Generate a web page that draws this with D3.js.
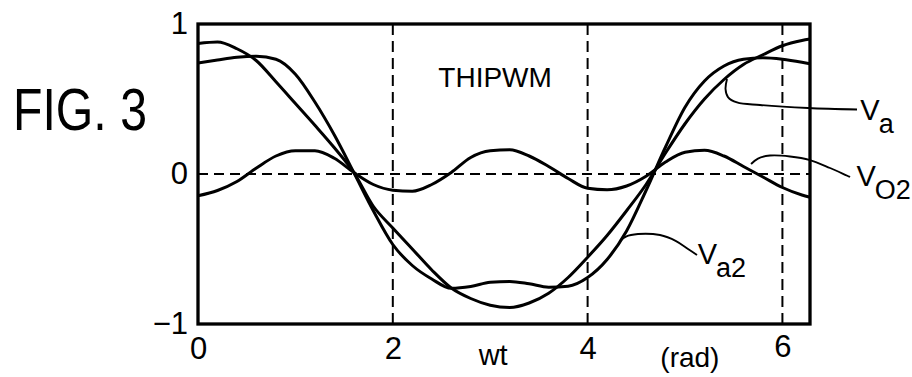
<!DOCTYPE html>
<html>
<head>
<meta charset="utf-8">
<script src="https://cdn.jsdelivr.net/npm/d3@7"></script>
<style>
  html, body { margin: 0; padding: 0; background: #fff; }
  svg { display: block; }
  text { font-family: "Liberation Sans Narrow", "Liberation Sans", Arial, sans-serif; fill: #000; }
</style>
</head>
<body>
<svg id="chart" width="912" height="377"></svg>
<script>
// Sample angles (rad) over one period
const wt = [0, 0.2, 0.4, 0.6, 0.8, 1.0, 1.2, 1.4, 1.6, 1.8, 2.0, 2.2, 2.4, 2.6, 2.8, 3.0,
            3.2, 3.4, 3.6, 3.8, 4.0, 4.2, 4.4, 4.6, 4.8, 5.0, 5.2, 5.4, 5.6, 5.8, 6.0, 6.2, 6.2832];

// Fundamental reference V_a
const va = [0.87, 0.88, 0.835, 0.755, 0.615, 0.47, 0.325, 0.175, 0.01, -0.215, -0.36, -0.50,
            -0.64, -0.76, -0.83, -0.875, -0.89, -0.86, -0.795, -0.69, -0.555, -0.41, -0.245,
            -0.07, 0.14, 0.335, 0.50, 0.63, 0.73, 0.795, 0.855, 0.89, 0.90];

// Third-harmonic-injected reference V_a2
const va2 = [0.74, 0.76, 0.778, 0.785, 0.765, 0.665, 0.48, 0.26, 0.01, -0.245, -0.47, -0.61,
             -0.70, -0.762, -0.75, -0.722, -0.716, -0.732, -0.755, -0.748, -0.69, -0.57, -0.38,
             -0.11, 0.18, 0.445, 0.62, 0.72, 0.765, 0.775, 0.765, 0.745, 0.735];

// Zero-sequence (third harmonic) component V_O2
const vo2 = [-0.145, -0.11, -0.05, 0.04, 0.12, 0.155, 0.155, 0.105, 0.01, -0.07, -0.108, -0.115,
             -0.07, 0.01, 0.11, 0.155, 0.162, 0.12, 0.05, -0.03, -0.095, -0.105, -0.08,
             -0.015, 0.08, 0.145, 0.158, 0.12, 0.05, -0.02, -0.09, -0.14, -0.155];

const xTicks = [0, 2, 4, 6];
const yTicks = [-1, 0, 1];
const gridX = [2, 4, 6];

// Leader lines from each curve to its label, as [wt, value] pairs
const vaLeader  = [[5.431, 0.633], [5.416, 0.567], [5.441, 0.513], [5.534, 0.477], [5.77, 0.46], [6.263, 0.44], [6.766, 0.43]];
const vo2Leader = [[5.678, 0.067], [5.749, 0.103], [5.873, 0.123], [6.078, 0.117], [6.283, 0.093], [6.489, 0.04], [6.694, -0.02]];
const va2Leader = [[4.333, -0.447], [4.394, -0.417], [4.517, -0.40], [4.743, -0.407], [4.908, -0.447], [5.031, -0.5], [5.123, -0.54]];

// Curve labels: main letter, subscript, anchor [wt, value]
const curveLabels = [
  { main: "V", sub: "a",  at: [6.80, 0.36] },
  { main: "V", sub: "O2", at: [6.76, -0.08] },
  { main: "V", sub: "a2", at: [5.13, -0.60] }
];

const svg = d3.select("#chart");
const margin = { left: 198, top: 24, right: 102, bottom: 53 };
const W = 912 - margin.left - margin.right;
const H = 377 - margin.top - margin.bottom;
const g = svg.append("g").attr("transform", `translate(${margin.left},${margin.top})`);

const x = d3.scaleLinear().domain([0, 2 * Math.PI]).range([0, W]);
const y = d3.scaleLinear().domain([-1, 1]).range([H, 0]);

// dashed guides
g.append("line")
  .attr("x1", 0).attr("x2", W).attr("y1", y(0)).attr("y2", y(0))
  .attr("stroke", "#000").attr("stroke-width", 2).attr("stroke-dasharray", "10,6");
g.selectAll("line.vgrid").data(gridX).enter().append("line")
  .attr("class", "vgrid")
  .attr("x1", d => x(d)).attr("x2", d => x(d)).attr("y1", 0).attr("y2", H)
  .attr("stroke", "#000").attr("stroke-width", 2).attr("stroke-dasharray", "11,6");

// curves
const line = d3.line().x((d, i) => x(wt[i])).y(d => y(d)).curve(d3.curveMonotoneX);
[va, va2, vo2].forEach(s => {
  g.append("path").attr("d", line(s))
    .attr("fill", "none").attr("stroke", "#000").attr("stroke-width", 3)
    .attr("stroke-linejoin", "round");
});

// leaders
const leader = d3.line().x(d => x(d[0])).y(d => y(d[1])).curve(d3.curveCatmullRom.alpha(0.5));
[vaLeader, vo2Leader, va2Leader].forEach(p => {
  g.append("path").attr("d", leader(p))
    .attr("fill", "none").attr("stroke", "#000").attr("stroke-width", 1.9);
});

// frame
g.append("rect").attr("x", 0).attr("y", 0).attr("width", W).attr("height", H)
  .attr("fill", "none").attr("stroke", "#000").attr("stroke-width", 3.3);

// axes (tick labels only)
const xAxis = g.append("g").attr("transform", `translate(0,${H})`)
  .call(d3.axisBottom(x).tickValues(xTicks).tickSize(0).tickPadding(13).tickFormat(d3.format("d")));
const yAxis = g.append("g")
  .call(d3.axisLeft(y).tickValues(yTicks).tickSize(0).tickPadding(10).tickFormat(d3.format("d")));
[xAxis, yAxis].forEach(a => {
  a.select(".domain").remove();
  a.selectAll("text").attr("font-size", 31).attr("font-family", null).attr("fill", "#000");
});
xAxis.selectAll(".tick").filter(d => d === 6).select("text").attr("dy", "0.64em");

// axis titles
g.append("text").attr("x", x(3.03)).attr("y", H + 41).attr("text-anchor", "middle")
  .attr("font-size", 29).text("wt");
g.append("text").attr("x", x(5.05)).attr("y", H + 43).attr("text-anchor", "middle")
  .attr("font-size", 28).text("(rad)");

// in-plot title
g.append("text").attr("x", x(3.05)).attr("y", y(0.58)).attr("text-anchor", "middle")
  .attr("font-size", 28).text("THIPWM");

// curve labels
curveLabels.forEach(l => {
  const t = g.append("text").attr("x", x(l.at[0])).attr("y", y(l.at[1])).attr("font-size", 29);
  t.append("tspan").text(l.main);
  t.append("tspan").attr("dy", 13).attr("dx", -1).attr("font-size", 27).text(l.sub);
});

// figure caption
svg.append("text").attr("x", 13).attr("y", 130).attr("font-size", 60)
  .attr("textLength", 134).attr("lengthAdjust", "spacingAndGlyphs").text("FIG. 3");
</script>
</body>
</html>
